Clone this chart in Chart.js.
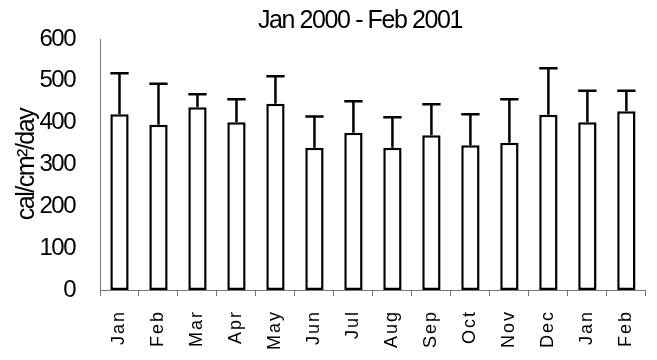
<!DOCTYPE html>
<html>
<head>
<meta charset="utf-8">
<script src="https://cdn.jsdelivr.net/npm/chart.js@4/dist/chart.umd.min.js"></script>
<style>
  html, body { margin: 0; padding: 0; background: #fff; overflow: hidden; }
  #wrap { width: 662px; height: 360px; }
</style>
</head>
<body>
<div id="wrap"><canvas id="chart"></canvas></div>
<script>
// Monthly mean solar radiation with one standard deviation, Jan 2000 - Feb 2001
const months = ['Jan', 'Feb', 'Mar', 'Apr', 'May', 'Jun', 'Jul', 'Aug', 'Sep', 'Oct', 'Nov', 'Dec', 'Jan', 'Feb'];
const meanRadiation = [420, 395, 437, 401, 445, 340, 376, 340, 370, 346, 352, 419, 401, 427];
const stdDeviation = [98, 98, 31, 55, 66, 75, 75, 73, 74, 74, 104, 111, 75, 49];
const yTickValues = [0, 100, 200, 300, 400, 500, 600];
const chartTitle = 'Jan 2000 - Feb 2001';
const yAxisLabel = 'cal/cm²/day';

const FONT = '"Liberation Sans", Arial, sans-serif';

// Y tick labels are set a little tight; month labels a little loose.
const textSpacing = {
  id: 'textSpacing',
  beforeDraw(chart) {
    chart.ctx.letterSpacing = '-1.5px';
  }
};

// Upper error whiskers (mean + SD) with a cap as wide as the bar.
const errorBars = {
  id: 'errorBars',
  afterDatasetsDraw(chart) {
    const { ctx, scales: { y } } = chart;
    const meta = chart.getDatasetMeta(0);
    ctx.save();
    ctx.strokeStyle = '#000';
    ctx.lineWidth = 2.5;
    ctx.lineCap = 'butt';
    meta.data.forEach((bar, i) => {
      const top = y.getPixelForValue(meanRadiation[i] + stdDeviation[i]);
      const half = bar.width / 2;
      ctx.beginPath();
      ctx.moveTo(bar.x, bar.y);
      ctx.lineTo(bar.x, top);
      ctx.moveTo(bar.x - half, top);
      ctx.lineTo(bar.x + half, top);
      ctx.stroke();
    });
    ctx.restore();
    // month labels are drawn after the datasets (ticks.z = 1)
    ctx.letterSpacing = '2px';
  },
  afterDraw(chart) {
    chart.ctx.letterSpacing = '0px';
  }
};

// Chart heading, set slightly left of the plot centre.
const heading = {
  id: 'heading',
  afterDraw(chart) {
    const { ctx, chartArea } = chart;
    ctx.save();
    ctx.letterSpacing = '-1.4px';
    ctx.font = '25px ' + FONT;
    ctx.fillStyle = '#000';
    ctx.textAlign = 'center';
    ctx.textBaseline = 'middle';
    ctx.fillText(chartTitle, chartArea.left + 260, 21);
    ctx.restore();
  }
};

new Chart(document.getElementById('chart'), {
  type: 'bar',
  data: {
    labels: months,
    datasets: [{
      data: meanRadiation,
      backgroundColor: '#fff',
      borderColor: '#000',
      borderWidth: 2.5,
      borderSkipped: false,
      barPercentage: 0.47,
      categoryPercentage: 1
    }]
  },
  options: {
    responsive: true,
    maintainAspectRatio: false,
    animation: false,
    devicePixelRatio: 1,
    layout: { padding: { top: 39, right: 1, left: 0, bottom: 0 } },
    plugins: {
      legend: { display: false },
      tooltip: { enabled: false },
      title: { display: false }
    },
    scales: {
      x: {
        ticks: {
          z: 1,
          color: '#000',
          font: { family: FONT, size: 18 },
          minRotation: 90,
          maxRotation: 90,
          autoSkip: false,
          padding: 14
        },
        grid: {
          display: true,
          drawOnChartArea: false,
          drawTicks: true,
          tickLength: 6,
          offset: true,
          color: '#777',
          lineWidth: 1
        },
        border: { display: true, color: '#777', width: 1 },
        afterFit(scale) { scale.height = 70; }
      },
      y: {
        min: 0,
        max: 600,
        afterBuildTicks(scale) {
          scale.ticks = yTickValues.map(v => ({ value: v }));
        },
        ticks: {
          color: '#000',
          font: { family: FONT, size: 24 },
          padding: 17
        },
        grid: { display: false },
        border: { display: true, color: '#777', width: 1 },
        title: {
          display: true,
          text: yAxisLabel,
          color: '#000',
          font: { family: FONT, size: 25 },
          padding: { top: 12, bottom: 0 }
        },
        afterFit(scale) { scale.width = 100; }
      }
    }
  },
  plugins: [textSpacing, errorBars, heading]
});
</script>
</body>
</html>
